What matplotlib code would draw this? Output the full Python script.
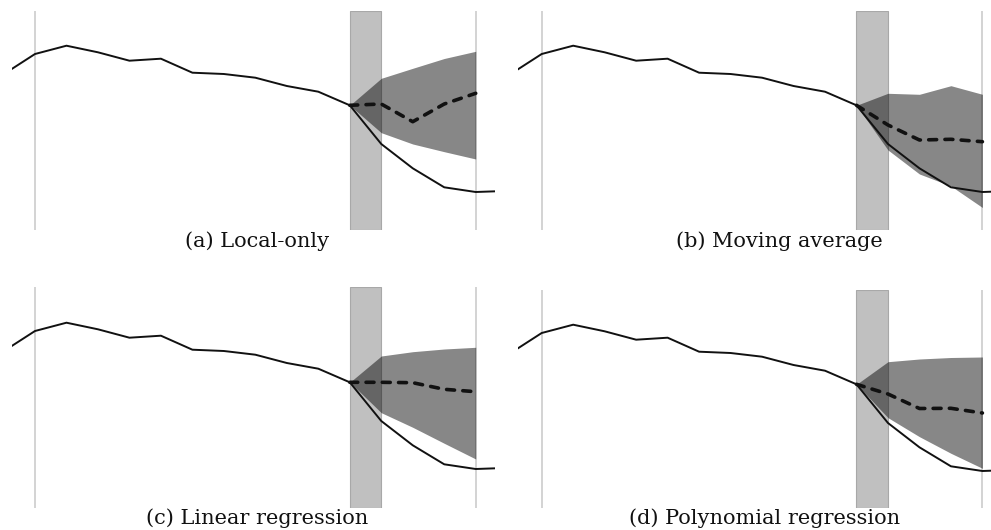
import matplotlib
matplotlib.use("Agg")
import matplotlib.pyplot as plt
import numpy as np

# observed series, one value per step (step 0 and 14 are the window edges)
steps = np.arange(-1, 16)
observed = [155.7, 176, 184.3, 177.7, 169.3, 171.3, 157.3, 156, 152.3,
            144, 138.3, 124.7, 86, 61.7, 42.7, 38, 39.1]

# forecast horizon starts at step 10
fc_steps = np.arange(10, 15)

captions = ["(a) Local-only", "(b) Moving average",
            "(c) Linear regression", "(d) Polynomial regression"]

mean_a = [124.7, 126, 108.3, 126, 136.7]
upper_a = [124.7, 151.7, 161.7, 171.5, 178.7]
lower_a = [124.7, 97.3, 86, 78.3, 71]

mean_b = [124.7, 105, 90, 90.7, 88.3]
upper_b = [124.7, 136.7, 135.7, 144.3, 135.7]
lower_b = [124.7, 80, 56, 44, 22.5]

mean_c = [124.7, 124.7, 124.3, 117.7, 115.3]
upper_c = [124.7, 151, 155.3, 158, 159.7]
lower_c = [124.7, 94.3, 79.7, 63.7, 48]

mean_d = [124.7, 115, 100.5, 100.7, 96]
upper_d = [124.7, 147.3, 150, 151.5, 152]
lower_d = [124.7, 91.3, 72.3, 55.7, 40.7]

forecasts = [(mean_a, upper_a, lower_a), (mean_b, upper_b, lower_b),
             (mean_c, upper_c, lower_c), (mean_d, upper_d, lower_d)]

W, H = 991, 530
fig = plt.figure(figsize=(W / 100, H / 100), dpi=100)

step_px = 31.48
x_lo, x_hi = -0.74, 14.61
# panel boxes in pixels: left, top, bottom, and y limits
boxes = [
    (11.7, 11, 230, (0, 219)),
    (518.4, 11, 230, (0, 219)),
    (11.7, 286.7, 508.3, (-1.3, 220.3)),
    (518.4, 290, 508.3, (0.7, 219)),
]
# caption centres in pixels
cap_pos = [(257, 241), (779.5, 241), (257, 518), (764.5, 518)]

for i, ((left, top, bottom, ylim), (mean, up, lo)) in enumerate(zip(boxes, forecasts)):
    width = (x_hi - x_lo) * step_px
    ax = fig.add_axes([left / W, 1 - bottom / H, width / W, (bottom - top) / H])
    ax.set_xlim(x_lo, x_hi)
    ax.set_ylim(*ylim)
    ax.axis("off")

    ax.axvline(0, color="#d0d0d0", lw=1.3, zorder=1)
    ax.axvline(14, color="#d0d0d0", lw=1.3, zorder=1)
    ax.axvspan(10, 11, facecolor="#c0c0c0", edgecolor="#a8a8a8", lw=0.8, zorder=1)

    ax.fill_between(fc_steps, lo, up, color="black", alpha=0.47, lw=0, zorder=2)
    ax.plot(steps, observed, color="#111111", lw=1.4, zorder=3)
    ax.plot(fc_steps, mean, color="#111111", lw=2.6, dashes=(2.2, 2.3),
            solid_capstyle="round", dash_capstyle="round", zorder=4)

    fig.text(cap_pos[i][0] / W, 1 - cap_pos[i][1] / H, captions[i],
             ha="center", va="center", fontsize=15, family="DejaVu Serif",
             color="#111111")

fig.savefig("out.png", dpi=100)
